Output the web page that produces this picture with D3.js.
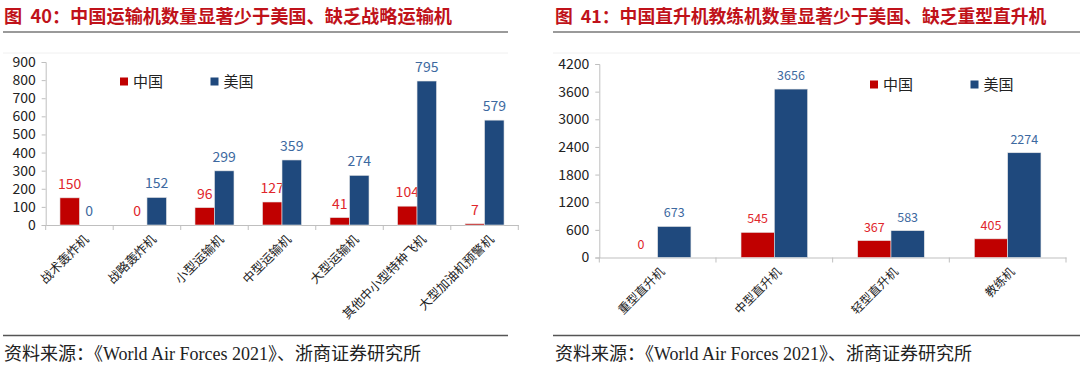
<!DOCTYPE html>
<html><head><meta charset="utf-8">
<script src="https://cdn.jsdelivr.net/npm/d3@7"></script>
<style>
html,body{margin:0;padding:0;background:#fff;}
svg{display:block;}
text{white-space:pre;}
</style></head>
<body>
<svg id="c" width="1080" height="366"></svg>
<script>
// ---- Data ----
const seriesNames = ["中国", "美国"];
const leftTitle = "图  40：中国运输机数量显著少于美国、缺乏战略运输机";
const leftCategories = ["战术轰炸机", "战略轰炸机", "小型运输机", "中型运输机", "大型运输机", "其他中小型特种飞机", "大型加油机预警机"];
const leftChina = [150, 0, 96, 127, 41, 104, 7];
const leftUSA = [0, 152, 299, 359, 274, 795, 579];
const leftTicks = [0, 100, 200, 300, 400, 500, 600, 700, 800, 900];

const rightTitle = "图  41：中国直升机教练机数量显著少于美国、缺乏重型直升机";
const rightCategories = ["重型直升机", "中型直升机", "轻型直升机", "教练机"];
const rightChina = [0, 545, 367, 405];
const rightUSA = [673, 3656, 583, 2274];
const rightTicks = [0, 600, 1200, 1800, 2400, 3000, 3600, 4200];

const sourceText = "资料来源：《World Air Forces 2021》、浙商证券研究所";

const RED = "#c00000", BLUE = "#1f497d";
const RED_T = "#e0262c", BLUE_T = "#3d69a0";
const SANS = "'Noto Sans CJK SC','Noto Sans',sans-serif";
const SERIF = "'Liberation Serif','DejaVu Serif','Noto Sans CJK SC',serif";

const svg = d3.select("#c");

function panel(o) {
  const g = svg.append("g");
  // title
  g.append("text").attr("x", o.titleX).attr("y", 23)
    .attr("font-family", SANS).attr("font-weight", "bold").attr("font-size", o.titleSize)
    .attr("fill", "#c0121a").text(o.title);
  g.append("line").attr("x1", o.lineX1).attr("x2", o.lineX2).attr("y1", 32).attr("y2", 32)
    .attr("stroke", "#9a9a9a").attr("stroke-width", 2);
  g.append("line").attr("x1", o.lineX1).attr("x2", o.lineX2).attr("y1", 53).attr("y2", 53)
    .attr("stroke", "#f0f0f0").attr("stroke-width", 1);
  // footer
  g.append("line").attr("x1", o.lineX1).attr("x2", o.lineX2).attr("y1", 335.5).attr("y2", 335.5)
    .attr("stroke", "#555").attr("stroke-width", 1.5);
  g.append("text").attr("x", o.titleX).attr("y", 360)
    .attr("font-family", SERIF).attr("font-size", 18).attr("fill", "#222").text(sourceText);

  const x = d3.scaleBand().domain(o.categories).range([o.x0, o.x1]).padding(0);
  const y = d3.scaleLinear().domain([0, o.ymax]).range([o.y0, o.ytop]);

  // y axis
  const ya = g.append("g").attr("transform", `translate(${o.x0},0)`)
    .call(d3.axisLeft(y).tickValues(o.ticks).tickSize(4).tickPadding(6).tickFormat(d3.format("d")));
  ya.select(".domain").attr("stroke", "#bfbfbf");
  ya.selectAll(".tick line").attr("stroke", "#bfbfbf");
  ya.selectAll(".tick text").attr("font-family", SANS).attr("font-size", o.yFont).attr("fill", "#222");

  // x axis
  const xa = g.append("g").attr("transform", `translate(0,${o.y0})`)
    .call(d3.axisBottom(x).tickSize(0).tickFormat(""));
  xa.select(".domain").attr("stroke", "#bfbfbf");
  xa.selectAll(".tick").remove();
  const bounds = [o.x0].concat(o.categories.map(c => x(c) + x.bandwidth()));
  g.selectAll(".xt").data(bounds).join("line")
    .attr("x1", d => d).attr("x2", d => d).attr("y1", o.y0).attr("y2", o.y0 + 5)
    .attr("stroke", "#bfbfbf");

  const w = o.barW;
  const series = [o.china, o.usa];
  const fills = [RED, BLUE], tcol = [RED_T, BLUE_T];
  series.forEach((vals, si) => {
    g.selectAll(".b" + si).data(vals).join("rect")
      .attr("x", (d, i) => x(o.categories[i]) + x.bandwidth() / 2 - w + si * w)
      .attr("y", d => y(d)).attr("width", w).attr("height", d => o.y0 - y(d))
      .attr("fill", fills[si]).attr("stroke", d => d > 0 ? "#e6e6e6" : "none").attr("stroke-width", 0.6);
    g.selectAll(".l" + si).data(vals).join("text")
      .attr("x", (d, i) => x(o.categories[i]) + x.bandwidth() / 2 - w / 2 + si * w)
      .attr("y", d => y(d) - 9)
      .attr("text-anchor", "middle").attr("font-family", SANS).attr("font-size", o.vFont)
      .attr("fill", tcol[si]).text(d => d);
  });

  // category labels
  g.selectAll(".cl").data(o.categories).join("text")
    .attr("transform", d => `translate(${x(d) + x.bandwidth() / 2 + o.lblDx},${o.y0 + 9}) rotate(-45)`)
    .attr("text-anchor", "end").attr("dy", "0.7em")
    .attr("font-family", SANS).attr("font-size", o.cFont).attr("fill", "#222").text(d => d);

  // legend
  o.legend.forEach((L, i) => {
    g.append("rect").attr("x", L.x).attr("y", o.legY - 4).attr("width", 8).attr("height", 8)
      .attr("fill", fills[i]);
    g.append("text").attr("x", L.x + 13).attr("y", o.legY).attr("dy", "0.36em")
      .attr("font-family", SANS).attr("font-size", 15).attr("fill", "#222").text(seriesNames[i]);
  });
}

panel({
  title: leftTitle, titleX: 4, titleSize: 18.2, lineX1: 3, lineX2: 508,
  categories: leftCategories, china: leftChina, usa: leftUSA, ticks: leftTicks,
  x0: 45.7, x1: 518.3, y0: 225, ytop: 62, ymax: 900, barW: 19.5,
  yFont: 14, vFont: 14, cFont: 12.5, lblDx: 4,
  legY: 81.5, legend: [{x: 120}, {x: 210.5}]
});
panel({
  title: rightTitle, titleX: 555, titleSize: 17.8, lineX1: 553, lineX2: 1080,
  categories: rightCategories, china: rightChina, usa: rightUSA, ticks: rightTicks,
  x0: 599.3, x1: 1066, y0: 257.5, ytop: 64, ymax: 4200, barW: 33.3,
  yFont: 14, vFont: 12.5, cFont: 12, lblDx: 2,
  legY: 84.5, legend: [{x: 870}, {x: 970.5}]
});
</script>
</body></html>
